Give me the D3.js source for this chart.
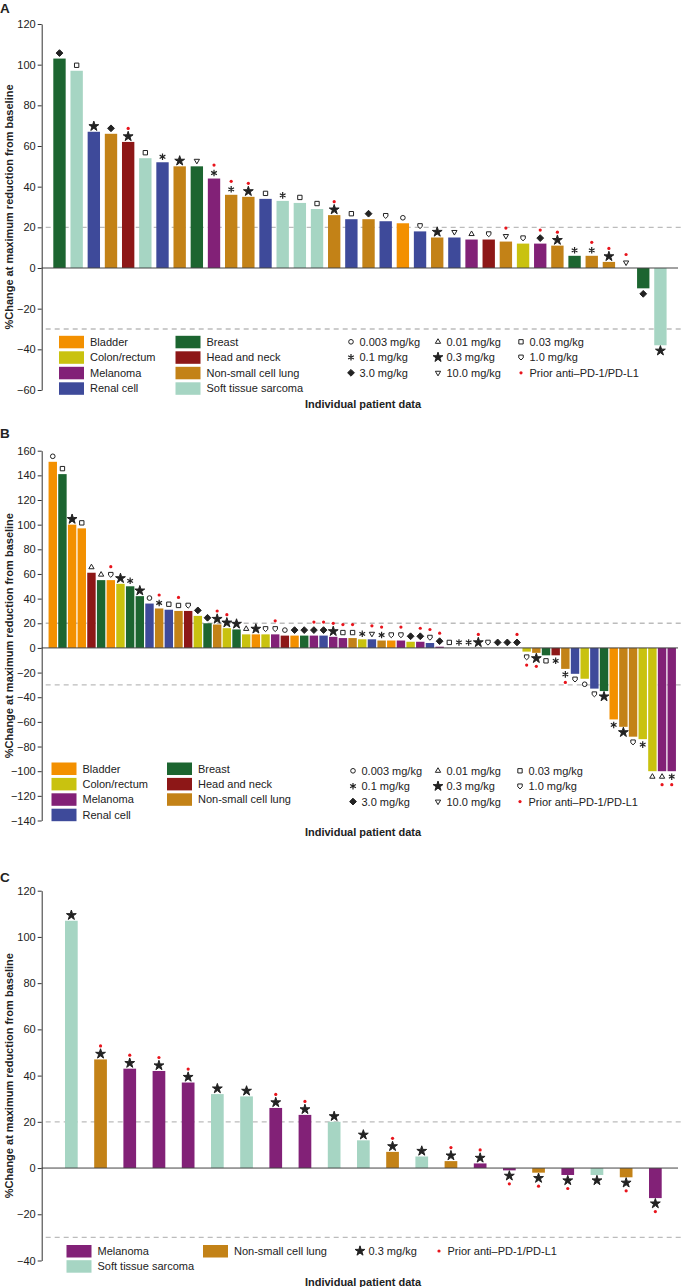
<!DOCTYPE html>
<html><head><meta charset="utf-8">
<script src="https://cdn.jsdelivr.net/npm/d3@7"></script>
<style>
body{margin:0;background:#fff}
svg{display:block}
text{font-family:"Liberation Sans",Arial,Helvetica,sans-serif;fill:#222}
</style>
</head><body>
<svg id="chart" width="684" height="1287"></svg>
<script>
// ---------- shared vocab ----------
const catCodes  = ["BL","CR","ME","RC","BR","HN","NS","ST"];
const catNames  = ["Bladder","Colon/rectum","Melanoma","Renal cell","Breast","Head and neck","Non-small cell lung","Soft tissue sarcoma"];
const catColors = ["#F39000","#C9C20F","#822177","#3E4A9A","#1C6530","#8D1717","#C38217","#A6D5C3"];
const doseCodes  = ["0.003","0.01","0.03","0.1","0.3","1.0","3.0","10.0"];
const doseLabels = ["0.003 mg/kg","0.01 mg/kg","0.03 mg/kg","0.1 mg/kg","0.3 mg/kg","1.0 mg/kg","3.0 mg/kg","10.0 mg/kg"];
const priorLabel = "Prior anti\u2013PD-1/PD-L1";
const xTitle = "Individual patient data";
const yTitle = "%Change at maximum reduction from baseline";

// ---------- panel A ----------
const aCategory = ["BR","ST","RC","NS","HN","ST","RC","NS","BR","ME","NS","NS","RC","ST","ST","ST","NS","RC","NS","RC","BL","RC","NS","RC","ME","HN","NS","CR","ME","NS","BR","NS","NS","","BR","ST"];
const aValues   = [103,97,67,66,62,54,52,50,50,44,36,35,34,33,32,29,26,24,24,23,22,18,15,15,14,14,13,12,12,11,6,6,3,0,-10,-38];
const aDose     = ["3.0","0.03","0.3","3.0","0.3","0.03","0.1","0.3","10.0","0.1","0.1","0.3","0.03","0.1","0.03","0.03","0.3","0.03","3.0","1.0","0.003","1.0","0.3","10.0","0.01","1.0","10.0","1.0","3.0","0.3","0.1","0.1","0.3","10.0","3.0","0.3"];
const aPrior    = [0,0,0,0,1,0,0,0,0,1,1,1,0,0,0,0,1,0,0,0,0,0,0,0,0,0,1,0,1,1,0,1,1,1,0,0];
const aTicks    = [120,100,80,60,40,20,0,-20,-40,-60];

// ---------- panel B ----------
const bCategory = ["BL","BR","BL","BL","HN","BR","BL","CR","BR","BR",
                   "RC","NS","RC","NS","HN","CR","BR","NS","CR","BR",
                   "CR","BL","CR","ME","HN","BL","BR","ME","RC","ME",
                   "ME","NS","CR","RC","NS","BL","ME","CR","ME","RC",
                   "ME","","","","","","","","",
                   "CR","NS","BR","HN","NS","RC","CR","RC","BR","BL",
                   "NS","NS","CR","CR","ME","ME"];
const bValues   = [151,141,100,97,61,55,55,52,50,42,
                   36,32,31,30,30,26,20,19,16,15,
                   11,11,11,11,10,10,10,10,10,9,
                   8,8,7,7,6,6,6,5,5,4,
                   1,0,0,0,0,0,0,0,0,
                   -3,-4,-6,-6,-17,-21,-25,-33,-35,-58,
                   -64,-72,-74,-100,-100,-100];
const bDose     = ["0.003","0.03","0.3","0.03","0.01","0.01","1.0","0.3","0.1","0.3",
                   "0.003","0.1","0.03","0.03","1.0","3.0","3.0","0.3","0.3","0.3",
                   "0.01","0.3","1.0","1.0","0.003","3.0","3.0","3.0","3.0","0.3",
                   "0.03","0.03","0.1","10.0","0.1","1.0","1.0","3.0","3.0","1.0",
                   "3.0","0.03","0.1","0.1","0.3","1.0","3.0","3.0","3.0",
                   "1.0","0.3","0.03","0.1","0.1","1.0","0.003","1.0","0.3","0.1",
                   "0.3","1.0","0.1","0.01","0.01","0.1"];
const bPrior    = [0,0,0,0,0,0,1,0,0,0,
                   0,1,0,1,0,0,0,1,1,0,
                   0,0,0,1,0,0,0,1,1,1,
                   1,1,0,1,1,0,1,0,1,1,
                   1,0,0,0,1,0,0,0,1,
                   1,1,0,0,1,0,0,0,0,0,
                   0,0,0,0,1,1];
const bTicks    = [160,140,120,100,80,60,40,20,0,-20,-40,-60,-80,-100,-120,-140];

// ---------- panel C ----------
const cCategory = ["ST","NS","ME","ME","ME","ST","ST","ME","ME","ST","ST","NS","ST","NS","ME","ME","NS","ME","ST","NS","ME"];
const cValues   = [107,47,43,42,37,32,31,26,23,20,12,7,5,3,2,-1,-2,-3,-3,-4,-13];
const cDose     = ["0.3","0.3","0.3","0.3","0.3","0.3","0.3","0.3","0.3","0.3","0.3","0.3","0.3","0.3","0.3","0.3","0.3","0.3","0.3","0.3","0.3"];
const cPrior    = [0,1,1,1,1,0,0,1,1,0,0,1,0,1,1,1,1,1,0,1,1];
const cTicks    = [120,100,80,60,40,20,0,-20,-40];

const refLines = [20,-30];

// ---------- symbols ----------
const shield = {draw(ctx,size){const r=Math.sqrt(size)/2;ctx.moveTo(-r,-r);ctx.lineTo(r,-r);ctx.lineTo(r,r*0.25);ctx.lineTo(0,r*1.2);ctx.lineTo(-r,r*0.25);ctx.closePath();}};
const triDown = {draw(ctx,size){const r=Math.sqrt(size)*0.6824,t=r/2,u=r*Math.sqrt(3)/2;ctx.moveTo(0,r);ctx.lineTo(u,-t);ctx.lineTo(-u,-t);ctx.closePath();}};
const triUp = {draw(ctx,size){const r=Math.sqrt(size)*0.6824,t=r/2,u=r*Math.sqrt(3)/2;ctx.moveTo(0,-r);ctx.lineTo(u,t);ctx.lineTo(-u,t);ctx.closePath();}};
const diamond = {draw(ctx,size){const r=Math.sqrt(size)/2;ctx.moveTo(0,-r);ctx.lineTo(r,0);ctx.lineTo(0,r);ctx.lineTo(-r,0);ctx.closePath();}};
const symSpec = {
  "0.003":{type:d3.symbolCircle,size:17,fill:"none"},
  "0.01": {type:triUp,size:20,fill:"none"},
  "0.03": {type:d3.symbolSquare,size:19,fill:"none"},
  "0.1":  {type:d3.symbolAsterisk,size:30,fill:"none",sw:1.2},
  "0.3":  {type:d3.symbolStar,size:30,fill:"#222"},
  "1.0":  {type:shield,size:20,fill:"none"},
  "3.0":  {type:diamond,size:46,fill:"#222"},
  "10.0": {type:triDown,size:20,fill:"none"}
};
function drawSymbol(g,code,x,y){
  const s=symSpec[code];
  g.append("path").attr("d",d3.symbol().type(s.type).size(s.size)())
   .attr("transform",`translate(${x},${y})`)
   .attr("fill",s.fill).attr("stroke","#222").attr("stroke-width",s.sw||1);
}

const svg = d3.select("#chart");
const colorOf = c => catColors[catCodes.indexOf(c)];
const nameOf  = c => catNames[catCodes.indexOf(c)];

function panel(cfg){
  const g = svg.append("g");
  const n = cfg.val.length;
  const x = d3.scaleBand().domain(d3.range(n)).range([cfg.x0,cfg.x1]).padding(cfg.pad);
  const y = d3.scaleLinear().domain([cfg.ticks[cfg.ticks.length-1],cfg.ticks[0]]).range([cfg.yb,cfg.yt]);
  const ax = 41.7;

  g.append("text").text(cfg.label).attr("x",0).attr("y",cfg.labelY)
   .style("font-weight","bold").style("font-size","13.5px");

  // reference lines
  g.selectAll(".ref").data(refLines).join("line")
   .attr("x1",ax+4).attr("x2",684).attr("y1",d=>y(d)).attr("y2",d=>y(d))
   .attr("stroke","#bcbcbc").attr("stroke-width",1.3).attr("stroke-dasharray","5,4");

  // bars
  const idx = d3.range(n).filter(i=>cfg.val[i]!==0);
  g.selectAll(".bar").data(idx).join("rect")
   .attr("x",i=>x(i)).attr("width",x.bandwidth())
   .attr("y",i=>y(Math.max(0,cfg.val[i]))).attr("height",i=>Math.abs(y(cfg.val[i])-y(0)))
   .attr("fill",i=>colorOf(cfg.cat[i]));

  // zero line
  g.append("line").attr("x1",ax).attr("x2",678).attr("y1",y(0)).attr("y2",y(0))
   .attr("stroke","#444").attr("stroke-width",1);

  // markers
  d3.range(n).forEach(i=>{
    const v=cfg.val[i], cx=x(i)+x.bandwidth()/2, sgn = v<0?1:-1;
    drawSymbol(g,cfg.dose[i],cx,y(v)+sgn*5.5);
    if(cfg.prior[i]) g.append("circle").attr("cx",cx).attr("cy",y(v)+sgn*13.5).attr("r",1.6).attr("fill","#e8141c");
  });

  // axis
  const axis = g.append("g").attr("transform",`translate(${ax},0)`)
    .call(d3.axisLeft(y).tickValues(cfg.ticks).tickSize(4).tickSizeOuter(0).tickPadding(2));
  axis.select(".domain").attr("stroke","#333");
  axis.selectAll(".tick line").attr("stroke","#333");
  axis.selectAll(".tick text").style("font-size","11px").attr("fill","#333")
      .style("font-family","'Liberation Sans',Arial,sans-serif");

  // y title
  g.append("text").text(yTitle)
   .attr("transform",`translate(8.5,${(cfg.yt+cfg.yb)/2}) rotate(-90)`)
   .attr("text-anchor","middle").attr("dominant-baseline","central")
   .style("font-weight","bold").style("font-size","11px");

  // x title
  g.append("text").text(xTitle).attr("x",363).attr("y",cfg.titleY)
   .attr("text-anchor","middle").attr("dominant-baseline","central")
   .style("font-weight","bold").style("font-size","11px");

  // category legend
  cfg.catLegend.forEach((col,ci)=>{
    col.forEach((c,ri)=>{
      const yy = cfg.legY0 + ri*cfg.legStep;
      g.append("rect").attr("x",cfg.swX[ci]).attr("y",yy-6).attr("width",25).attr("height",12.5)
       .attr("fill",colorOf(c));
      g.append("text").text(nameOf(c)).attr("x",cfg.swX[ci]+31).attr("y",yy)
       .attr("dominant-baseline","central").style("font-size","11px");
    });
  });

  // dose legend
  cfg.doseLegend.forEach((row,ri)=>{
    row.forEach((d,ci)=>{
      const yy = cfg.doseY0 + ri*cfg.legStep;
      const sx = cfg.doseX[ci];
      if(d==="prior") g.append("circle").attr("cx",sx).attr("cy",yy).attr("r",1.6).attr("fill","#e8141c");
      else drawSymbol(g,d,sx,yy);
      g.append("text").text(d==="prior"?priorLabel:doseLabels[doseCodes.indexOf(d)])
       .attr("x",sx+8.5).attr("y",yy).attr("dominant-baseline","central").style("font-size","11px");
    });
  });
}

panel({label:"A",labelY:12.7,cat:aCategory,val:aValues,dose:aDose,prior:aPrior,ticks:aTicks,
  yt:24,yb:390,x0:48.5,x1:671.4,pad:0.28,titleY:403.5,
  catLegend:[["BL","CR","ME","RC"],["BR","HN","NS","ST"]],swX:[59,175.5],legY0:341.8,legStep:15.5,
  doseLegend:[["0.003","0.01","0.03"],["0.1","0.3","1.0"],["3.0","10.0","prior"]],doseX:[351,438,521],doseY0:341.8});

panel({label:"B",labelY:438.3,cat:bCategory,val:bValues,dose:bDose,prior:bPrior,ticks:bTicks,
  yt:450.7,yb:820.5,x0:47.3,x1:677.2,pad:0.13,titleY:832,
  catLegend:[["BL","CR","ME","RC"],["BR","HN","NS"]],swX:[51.5,167],legY0:768.5,legStep:15.4,
  doseLegend:[["0.003","0.01","0.03"],["0.1","0.3","1.0"],["3.0","10.0","prior"]],doseX:[353,438,520],doseY0:770.8});

panel({label:"C",labelY:881.7,cat:cCategory,val:cValues,dose:cDose,prior:cPrior,ticks:cTicks,
  yt:890.7,yb:1260.5,x0:48.5,x1:678.2,pad:0.565,titleY:1281.7,
  catLegend:[["ME","ST"],["NS"]],swX:[66.5,203],legY0:1251,legStep:15.2,
  doseLegend:[["0.3","prior"]],doseX:[360,439],doseY0:1251});
</script>
</body></html>
